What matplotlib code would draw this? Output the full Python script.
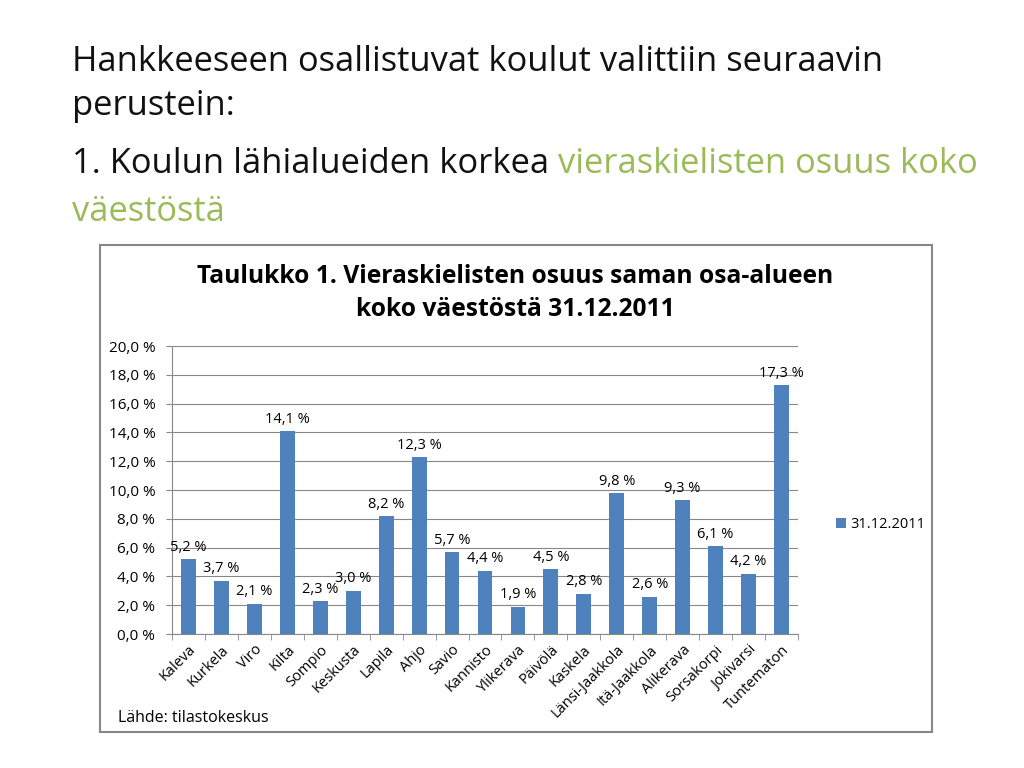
import matplotlib.pyplot as plt
from matplotlib.patches import Rectangle

# data
alueet = ['Kaleva', 'Kurkela', 'Viro', 'Kilta', 'Sompio', 'Keskusta', 'Lapila',
          'Ahjo', 'Savio', 'Kannisto', 'Ylikerava', 'Päivölä', 'Kaskela',
          'Länsi-Jaakkola', 'Itä-Jaakkola', 'Alikerava', 'Sorsakorpi',
          'Jokivarsi', 'Tuntematon']
osuus = [5.2, 3.7, 2.1, 14.1, 2.3, 3.0, 8.2, 12.3, 5.7, 4.4, 1.9, 4.5, 2.8,
         9.8, 2.6, 9.3, 6.1, 4.2, 17.3]
y_ticks = [0, 2, 4, 6, 8, 10, 12, 14, 16, 18, 20]

plt.rcParams['font.family'] = ['Open Sans', 'DejaVu Sans']
blue = '#4F81BD'
green = '#9BBB59'

fig = plt.figure(figsize=(10.24, 7.68), dpi=100)

# slide text
fs = 24.8
fig.text(72/1024, 1 - 62/768, 'Hankkeeseen osallistuvat koulut valittiin seuraavin',
         fontsize=fs, va='center', ha='left', color='#111111')
fig.text(72/1024, 1 - 106/768, 'perustein:', fontsize=fs, va='center', ha='left',
         color='#111111')
t1 = fig.text(72/1024, 1 - 164/768, '1. Koulun lähialueiden korkea ', fontsize=fs,
              va='center', ha='left', color='#111111')
fig.canvas.draw()
bb = t1.get_window_extent()
fig.text(bb.x1/1024, 1 - 164/768, 'vieraskielisten osuus koko', fontsize=fs,
         va='center', ha='left', color=green)
fig.text(72/1024, 1 - 212/768, 'väestöstä', fontsize=fs, va='center', ha='left',
         color=green)

# chart frame
fig.patches.append(Rectangle((100/1024, 1 - 732/768), 832/1024, 487/768,
                             transform=fig.transFigure, fill=False,
                             edgecolor='#888888', linewidth=1.5))

fig.text(515/1024, 1 - 277/768, 'Taulukko 1. Vieraskielisten osuus saman osa-alueen',
         fontsize=17.7, fontweight='bold', ha='center', va='center')
fig.text(515/1024, 1 - 310/768, 'koko väestöstä 31.12.2011',
         fontsize=17.7, fontweight='bold', ha='center', va='center')
fig.text(118/1024, 1 - 718/768, 'Lähde: tilastokeskus', fontsize=11.5,
         ha='left', va='center')

ax = fig.add_axes([172/1024, 1 - 634/768, 626/1024, 288/768])
x = list(range(len(alueet)))
bars = ax.bar(x, osuus, width=0.45, color=blue, label='31.12.2011', zorder=3)
for xi, v in zip(x, osuus):
    ax.text(xi, v + 0.3, f'{v:.1f} %'.replace('.', ','), ha='center', va='bottom',
            fontsize=10.5)

ax.set_xlim(-0.5, len(alueet) - 0.5)
ax.set_ylim(0, 20)
ax.set_yticks(y_ticks)
ax.set_yticklabels([f'{t:.1f} %'.replace('.', ',') for t in y_ticks], fontsize=11)
ax.yaxis.grid(True, color='#888888', linewidth=0.8, zorder=0)
ax.set_xticks(x)
ax.set_xticklabels(alueet, rotation=45, ha='right', rotation_mode='anchor', fontsize=10.5)
ax.tick_params(axis='x', length=0, pad=6)
ax.set_xticks([i - 0.5 for i in range(len(alueet) + 1)], minor=True)
ax.tick_params(axis='x', which='minor', length=4, color='#888888')
ax.tick_params(axis='y', length=4, color='#888888', pad=8)
for s in ['top', 'right']:
    ax.spines[s].set_visible(False)
for s in ['left', 'bottom']:
    ax.spines[s].set_color('#888888')

ax.legend(loc='center left', bbox_to_anchor=(1.04, 0.38), frameon=False,
          fontsize=10.5, handlelength=0.7, handleheight=0.7, handletextpad=0.3)

fig.savefig('out.png', dpi=100)
